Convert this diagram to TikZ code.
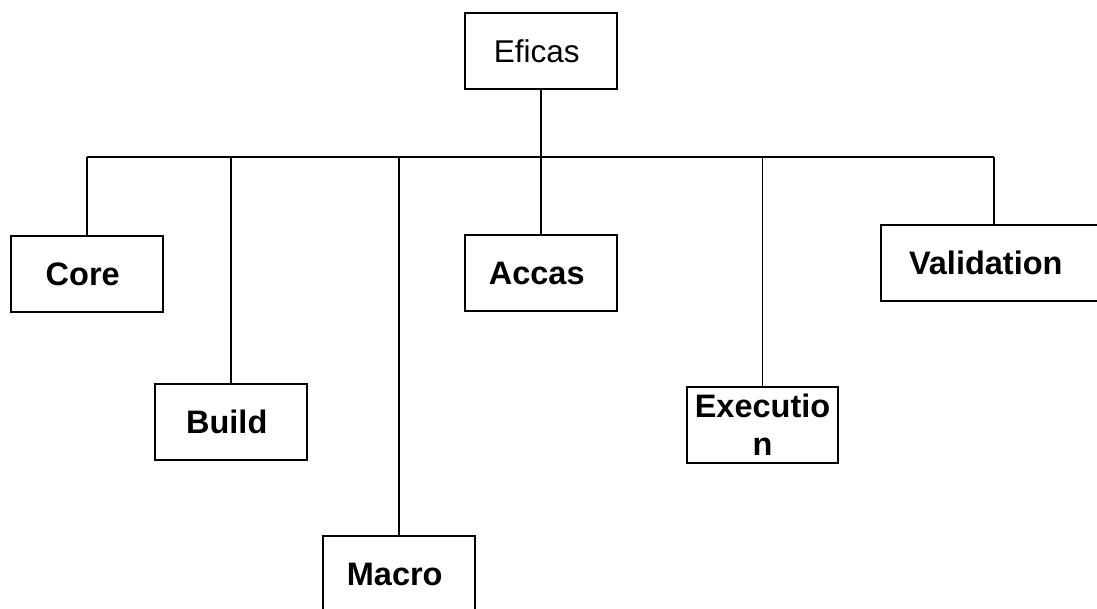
\documentclass[tikz,border=0pt]{standalone}
\usepackage{fontspec}
\setmainfont{Liberation Sans}
\begin{document}
\begin{tikzpicture}[x=1pt,y=-1pt,
  box/.style={draw=black,line width=1.6pt,fill=white,minimum width=152pt,minimum height=76pt,inner sep=0pt,align=center,font=\fontsize{32.5}{38}\selectfont\bfseries},
  lshift/.style={execute at end node={\hspace*{8.5pt}}},
  topbox/.style={box,lshift,font=\fontsize{31.5}{38}\selectfont},
  link/.style={draw=black,line width=1.6pt}]
\useasboundingbox (0,0) rectangle (1097,608);
\clip (0,0) rectangle (1097,608);
\node[topbox] (eficas) at (541,51) {Eficas};
\node[box,lshift] (core) at (87,274) {Core};
\node[box,lshift] (build) at (231,422) {Build};
\node[box,lshift] (macro) at (399,574) {Macro};
\node[box,lshift] (accas) at (541,273) {Accas};
\node[box,minimum width=151pt] (exec) at (762.5,425) {Executio\\n};
\node[box,lshift,minimum width=218pt] (valid) at (990,263) {Validation};
\coordinate (busL) at (87,157);
\coordinate (busM) at (541,157);
\coordinate (busR) at (994,157);
\draw[link] (eficas.south) -- (busM);
\draw[link] (busL) -- (busR);
\draw[link] (core.north |- busL) -- (core.north);
\draw[link] (build.north |- busL) -- (build.north);
\draw[link] (macro.north |- busL) -- (macro.north);
\draw[link] (accas.north |- busL) -- (accas.north);
\draw[link] (exec.north |- busL) -- (exec.north);
\draw[link] (busR) -- (busR |- valid.north);
\end{tikzpicture}
\end{document}
